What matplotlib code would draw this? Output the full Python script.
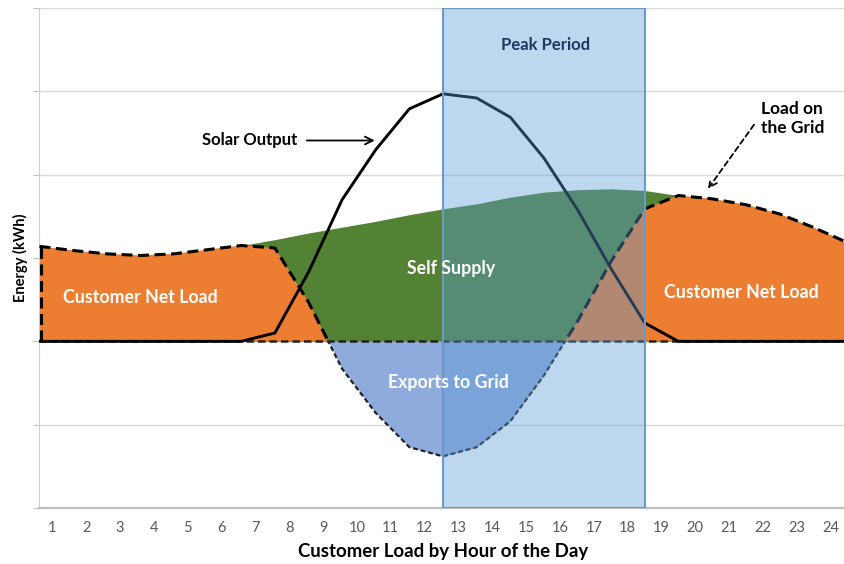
import numpy as np
import matplotlib
matplotlib.use("Agg")
import matplotlib.pyplot as plt
from matplotlib.patches import Rectangle

plt.rcParams['font.family'] = ['Lato', 'DejaVu Sans']

# ---- data (index 0..24 along the day) ----
points = list(range(25))
total_load = [1.14, 1.09, 1.05, 1.03, 1.05, 1.10, 1.15, 1.22, 1.30, 1.37, 1.44, 1.52,
              1.59, 1.65, 1.73, 1.79, 1.82, 1.83, 1.81, 1.75, 1.71, 1.64, 1.53, 1.37, 1.19]
solar_output = [0, 0, 0, 0, 0, 0, 0, 0.10, 0.83, 1.70, 2.30, 2.79,
                2.97, 2.92, 2.69, 2.20, 1.58, 0.87, 0.22, 0, 0, 0, 0, 0, 0]
hour_labels = [str(h) for h in range(1, 25)]
peak_start, peak_end = 12, 18

x = np.array(points, dtype=float)
total = np.array(total_load)
solar = np.array(solar_output)
net = total - solar

GREEN = '#548235'
ORANGE = '#ED7D31'
EXPORT = '#8FAADC'

fig = plt.figure(figsize=(8.45, 5.64), dpi=100)
ax = fig.add_axes([39.5/845, (564-508)/564, 807/845, 500/564])
ax.set_xlim(0, 24)
ax.set_ylim(-2, 4)

# grid
ax.set_yticks(np.arange(-2, 5, 1))
ax.yaxis.grid(True, color='#D9D9D9', lw=1.0, zorder=0)
ax.set_axisbelow(True)
ax.tick_params(axis='y', length=4, color='#BFBFBF', labelleft=False, direction='out')
for s in ['top', 'right']:
    ax.spines[s].set_visible(False)
ax.spines['left'].set_color('#D0D0D0')
ax.spines['bottom'].set_color('#BFBFBF')
ax.spines['bottom'].set_linewidth(1.6)

# areas
ax.fill_between(x, total, 0, color=GREEN, lw=0, zorder=1)
ax.fill_between(x, net, 0, where=net > 0, interpolate=True, color=ORANGE, lw=0, zorder=2)
ax.fill_between(x, net, 0, where=net < 0, interpolate=True, color=EXPORT, lw=0, zorder=2)

# net load borders
l1, = ax.plot(x, net, color='black', lw=2.2, dashes=(3.6, 1.8), zorder=3)
l1.set_clip_path(Rectangle((0, 0), 24, 5, transform=ax.transData))
l2, = ax.plot(x, net, color='#222222', lw=1.6, dashes=(2.2, 1.3), zorder=3)
l2.set_clip_path(Rectangle((0, -3), 24, 3, transform=ax.transData))
ax.plot([0, 24], [0, 0], color='#222222', lw=1.8, dashes=(3.0, 1.6), zorder=3)
ax.plot([0.03, 0.03], [0, net[0]], color='black', lw=2.2, dashes=(3.6, 1.8), zorder=3)

# solar
ax.plot(x, solar, color='black', lw=2.1, zorder=3.5, solid_joinstyle='round')

# peak period
ax.add_patch(Rectangle((peak_start, -2), peak_end - peak_start, 6,
                       facecolor=(91/255, 155/255, 213/255, 0.4),
                       edgecolor='#6A9AC8', lw=1.5, zorder=4))

# ticks
ax.set_xticks(np.linspace(0.38, 23.53, 24))
ax.set_xticklabels(hour_labels, fontsize=10.5, color='#595959')
ax.tick_params(axis='x', length=0, pad=9)

ax.set_xlabel('Customer Load by Hour of the Day', fontsize=13.4, fontweight='bold',
              labelpad=6)
ax.set_ylabel('Energy (kWh)', fontsize=10.5, fontweight='bold', labelpad=4)

# labels
tk = dict(fontweight='bold', ha='center', va='center', zorder=6)
ax.text(3.0, 0.53, 'Customer Net Load', color='white', fontsize=12.8, **tk)
ax.text(20.86, 0.59, 'Customer Net Load', color='white', fontsize=12.8, **tk)
ax.text(12.23, 0.875, 'Self Supply', color='white', fontsize=12.8, **tk)
ax.text(12.17, -0.49, 'Exports to Grid', color='white', fontsize=12.8, **tk)
ax.text(15.06, 3.55, 'Peak Period', color='#1F3864', fontsize=12, **tk)
ax.text(6.25, 2.41, 'Solar Output', color='black', fontsize=12, **tk)
ax.text(21.47, 2.67, 'Load on\nthe Grid', color='black', fontsize=12.5,
        fontweight='bold', ha='left', va='center', linespacing=1.25, zorder=6)

ax.annotate('', xy=(9.97, 2.41), xytext=(7.95, 2.41),
            arrowprops=dict(arrowstyle='->', color='black', lw=1.3,
                            shrinkA=0, shrinkB=0, mutation_scale=14), zorder=6)
ax.annotate('', xy=(19.88, 1.83), xytext=(21.25, 2.60),
            arrowprops=dict(arrowstyle='->', color='black', lw=1.3, ls=(0, (3, 2)),
                            shrinkA=0, shrinkB=0, mutation_scale=14), zorder=6)

fig.savefig('out.png', dpi=100)
